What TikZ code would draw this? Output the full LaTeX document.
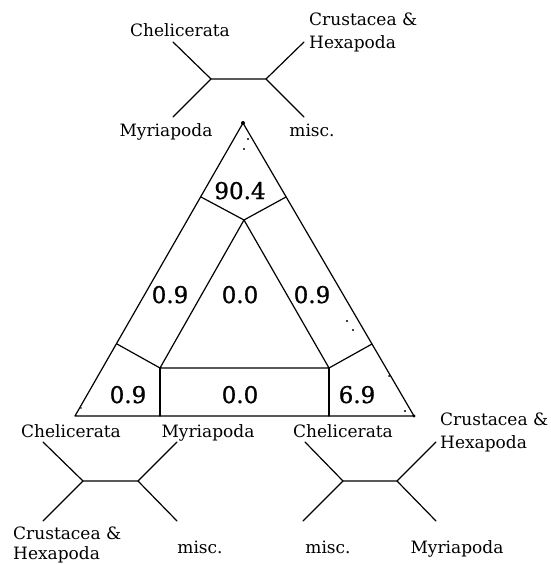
\documentclass[tikz,border=0pt]{standalone}
\usepackage{fontspec}
\setmainfont{DejaVu Serif}
\newfontfamily\numfont[FakeBold=0.9]{DejaVu Serif}
\begin{document}
\begin{tikzpicture}[x=1pt,y=-1pt,
  ln/.style={line width=1.2pt, line cap=round, line join=round},
  lab/.style={inner sep=0pt, anchor=base, font=\fontsize{17}{20}\selectfont},
  labw/.style={inner sep=0pt, anchor=base west, font=\fontsize{17}{20}\selectfont},
  num/.style={inner sep=0pt, anchor=base, font=\numfont\fontsize{23}{26}\selectfont},
  dotm/.style={fill=black}]
\useasboundingbox (0,0) rectangle (550,564);
% ---------- triangle ----------
\coordinate (A) at (243,123);
\coordinate (BL) at (75,416);
\coordinate (BR) at (414,416);
\coordinate (IT) at (244,220);
\coordinate (IL) at (160,368);
\coordinate (IR) at (329,368);
\coordinate (RL) at (160,416);
\coordinate (RR) at (329,416);
\coordinate (EL1) at (201,197);
\coordinate (ER1) at (286,197);
\coordinate (EL2) at (117,344);
\coordinate (ER2) at (372,344);
\draw[ln] (A) -- (BL) -- (BR) -- cycle;
\draw[ln] (IT) -- (IL) -- (IR) -- cycle;
\draw[ln] (IL) -- (RL);
\draw[ln] (IR) -- (RR);
\draw[ln] (IT) -- (EL1);
\draw[ln] (IT) -- (ER1);
\draw[ln] (IL) -- (EL2);
\draw[ln] (IR) -- (ER2);
% dots
\fill[dotm] (A) circle (2);
\fill[dotm] (248,139) circle (1.1);
\fill[dotm] (244,149) circle (1.1);
\fill[dotm] (347,321) circle (1.1);
\fill[dotm] (353,330) circle (1.1);
\fill[dotm] (389,376) circle (1.0);
\fill[dotm] (405,411) circle (1.2);
\fill[dotm] (BR) circle (1.6);
\fill[dotm] (81,408) circle (0.9);
% numbers
\node[num] (n1) at (240,199) {90.4};
\node[num] (n2) at (170,303) {0.9};
\node[num] (n3) at (240,303) {0.0};
\node[num] (n4) at (312,303) {0.9};
\node[num] (n5) at (128,403) {0.9};
\node[num] (n6) at (240,403) {0.0};
\node[num] (n7) at (357,403) {6.9};
% corner labels
\node[lab] (c1) at (71,437) {Chelicerata};
\node[lab] (c2) at (208,437) {Myriapoda};
\node[lab] (c3) at (343,437) {Chelicerata};
\node[labw] (c4) at (440,425) {Crustacea \&};
\node[labw] (c5) at (440,448) {Hexapoda};
% ---------- top tree ----------
\coordinate (t1) at (173,42);
\coordinate (t2) at (211,79);
\coordinate (t3) at (266,79);
\coordinate (t4) at (304,42);
\coordinate (t5) at (173,117);
\coordinate (t6) at (304,117);
\draw[ln] (t1) -- (t2) -- (t3) -- (t4);
\draw[ln] (t2) -- (t5);
\draw[ln] (t3) -- (t6);
\node[lab] (tl1) at (180,37) {Chelicerata};
\node[labw] (tl2) at (309,26) {Crustacea \&};
\node[labw] (tl3) at (309,49) {Hexapoda};
\node[lab] (tl4) at (166,137) {Myriapoda};
\node[lab] (tl5) at (312,137) {misc.};
% ---------- bottom-left tree ----------
\coordinate (l1) at (43,442);
\coordinate (l2) at (83,481);
\coordinate (l3) at (138,481);
\coordinate (l4) at (177,442);
\coordinate (l5) at (43,521);
\coordinate (l6) at (177,521);
\draw[ln] (l1) -- (l2) -- (l3) -- (l4);
\draw[ln] (l2) -- (l5);
\draw[ln] (l3) -- (l6);
\node[labw] (ll1) at (13,539) {Crustacea \&};
\node[labw] (ll2) at (13,559) {Hexapoda};
\node[lab] (ll3) at (200,553) {misc.};
% ---------- bottom-right tree ----------
\coordinate (r1) at (305,442);
\coordinate (r2) at (343,481);
\coordinate (r3) at (397,481);
\coordinate (r4) at (436,442);
\coordinate (r5) at (303,521);
\coordinate (r6) at (436,521);
\draw[ln] (r1) -- (r2) -- (r3) -- (r4);
\draw[ln] (r2) -- (r5);
\draw[ln] (r3) -- (r6);
\node[lab] (rl1) at (328,553) {misc.};
\node[lab] (rl2) at (457,553) {Myriapoda};
\end{tikzpicture}
\end{document}
